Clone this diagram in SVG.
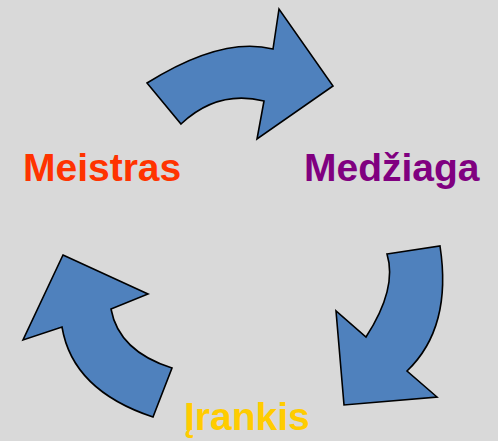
<svg xmlns="http://www.w3.org/2000/svg" width="498" height="441" viewBox="0 0 498 441">
<style>
.arrow{fill:#4F81BD;stroke:#000;stroke-width:1.6;stroke-linejoin:miter}
.lbl{font-family:"Liberation Sans",Arial,sans-serif;font-weight:bold;font-size:39px}
</style>
<rect width="498" height="441" fill="#D9D9D9"/>
<g id="connectors">
<path id="arrow-top" class="arrow" d="M147,83 Q222,36 273,49 L279,9 L333,86 L257,139 L264,101 Q217.5,89.5 181,124 Z"/>
<path id="arrow-right" class="arrow" d="M387,254 L440,246 Q452.5,327.5 407,371 L437,397 L344,405 L336,311 L366,337 Q397.5,288.5 387,254 Z"/>
<path id="arrow-left" class="arrow" d="M63,255 L148,294 L111,309 Q118.8,351.3 172,368 L153,417 Q72.5,390.3 62,327 L23,340 Z"/>
</g>
<g id="node-meistras"><text class="lbl" x="23" y="181" fill="#FF3300">Meistras</text></g>
<g id="node-medziaga"><text class="lbl" x="304" y="181" fill="#800080">Medžiaga</text></g>
<g id="node-irankis"><text class="lbl" x="184" y="430" fill="#FFCC00">Įrankis</text></g>
</svg>
